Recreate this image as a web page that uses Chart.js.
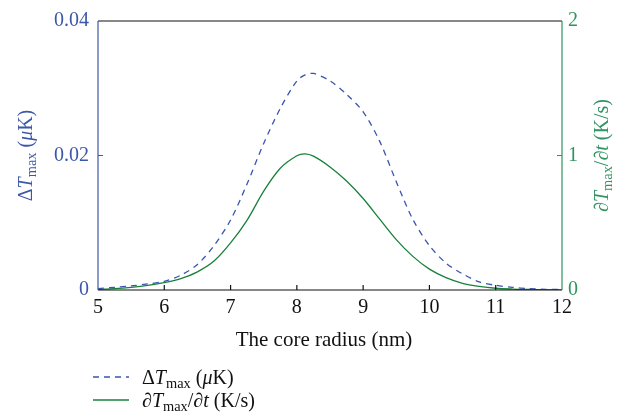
<!DOCTYPE html>
<html>
<head>
<meta charset="utf-8">
<script src="https://cdn.jsdelivr.net/npm/chart.js@4"></script>
<style>
html, body { margin: 0; padding: 0; background: #fff; }
#wrap { width: 621px; height: 416px; position: relative; }
</style>
</head>
<body>
<div id="wrap"><canvas id="graph"></canvas></div>
<script>
// core radius (nm)
var radius = [5, 5.25, 5.5, 5.75, 6, 6.25, 6.5, 6.75, 7, 7.25, 7.5, 7.75, 8, 8.125, 8.25, 8.5, 8.75, 9, 9.25, 9.5, 9.75, 10, 10.25, 10.5, 10.75, 11, 11.25, 11.5, 11.75, 12];
// delta T max (uK), left axis
var deltaT = [0.0002, 0.0004, 0.0006, 0.0009, 0.0013, 0.0022, 0.0038, 0.0066, 0.0104, 0.0158, 0.0218, 0.027, 0.0311, 0.032, 0.0322, 0.0311, 0.0291, 0.0265, 0.0221, 0.0161, 0.0105, 0.0066, 0.004, 0.0024, 0.0012, 0.0007, 0.0004, 0.0002, 0.0001, 0.0001];
// dT/dt (K/s), right axis
var rate = [0.004, 0.01, 0.02, 0.034, 0.054, 0.085, 0.135, 0.215, 0.35, 0.52, 0.735, 0.905, 0.998, 1.012, 0.995, 0.915, 0.81, 0.68, 0.527, 0.375, 0.25, 0.155, 0.092, 0.05, 0.027, 0.013, 0.007, 0.004, 0.002, 0.001];

var blue = '#3b57a8';
var blueLine = '#3a55b0';
var green = '#2f9460';
var greenLine = '#18803a';
var serif = '"Liberation Serif", "DejaVu Serif", serif';

function pts(ys) {
    return radius.map(function (r, i) { return { x: r, y: ys[i] }; });
}

// text made of pieces: {t, it (italic), sub (subscript)}
function richWidth(ctx, parts, size) {
    var w = 0;
    parts.forEach(function (p) {
        var s = p.sub ? size * 0.72 : size;
        ctx.font = (p.it ? 'italic ' : '') + s + 'px ' + serif;
        w += ctx.measureText(p.t).width;
    });
    return w;
}
function richText(ctx, parts, x, y, size) {
    parts.forEach(function (p) {
        var s = p.sub ? size * 0.72 : size;
        ctx.font = (p.it ? 'italic ' : '') + s + 'px ' + serif;
        ctx.fillText(p.t, x, p.sub ? y + size * 0.22 : y);
        x += ctx.measureText(p.t).width;
    });
}

var leftTitle = [{ t: 'Δ' }, { t: 'T', it: true }, { t: 'max', sub: true }, { t: ' (' }, { t: 'μ', it: true }, { t: 'K)' }];
var rightTitle = [{ t: '∂' }, { t: 'T', it: true }, { t: 'max', sub: true }, { t: '/∂' }, { t: 't', it: true }, { t: ' (K/s)' }];

var decor = {
    id: 'decor',
    afterDraw: function (chart) {
        var ctx = chart.ctx;
        var a = chart.chartArea;
        var sx = chart.scales.x, sy = chart.scales.y, sy1 = chart.scales.y1;
        ctx.save();
        ctx.lineWidth = 1.2;
        // frame
        ctx.strokeStyle = '#111';
        ctx.beginPath();
        ctx.moveTo(a.left, a.top); ctx.lineTo(a.right, a.top);
        ctx.moveTo(a.left, a.bottom); ctx.lineTo(a.right, a.bottom);
        ctx.stroke();
        // x ticks, pointing in
        [6, 7, 8, 9, 10, 11].forEach(function (v) {
            var px = sx.getPixelForValue(v);
            ctx.beginPath(); ctx.moveTo(px, a.bottom); ctx.lineTo(px, a.bottom - 5); ctx.stroke();
        });
        ctx.strokeStyle = blue;
        ctx.beginPath(); ctx.moveTo(a.left, a.top); ctx.lineTo(a.left, a.bottom);
        var py = sy.getPixelForValue(0.02);
        ctx.moveTo(a.left, py); ctx.lineTo(a.left + 5, py);
        ctx.stroke();
        ctx.strokeStyle = green;
        ctx.beginPath(); ctx.moveTo(a.right, a.top); ctx.lineTo(a.right, a.bottom);
        py = sy1.getPixelForValue(1);
        ctx.moveTo(a.right, py); ctx.lineTo(a.right - 5, py);
        ctx.stroke();

        ctx.textBaseline = 'alphabetic';
        // x title
        ctx.fillStyle = '#111';
        ctx.font = '21px ' + serif;
        ctx.textAlign = 'center';
        ctx.fillText('The core radius (nm)', 324, 346);
        ctx.textAlign = 'left';

        // y titles, rotated
        var mid = (a.top + a.bottom) / 2;
        ctx.save();
        ctx.fillStyle = blue;
        ctx.translate(32, mid);
        ctx.rotate(-Math.PI / 2);
        richText(ctx, leftTitle, -richWidth(ctx, leftTitle, 20) / 2, 0, 20);
        ctx.restore();
        ctx.save();
        ctx.fillStyle = green;
        ctx.translate(608, mid);
        ctx.rotate(-Math.PI / 2);
        richText(ctx, rightTitle, -richWidth(ctx, rightTitle, 20) / 2, 0, 20);
        ctx.restore();

        // legend
        ctx.lineWidth = 1.3;
        ctx.strokeStyle = blueLine;
        ctx.setLineDash([6, 5]);
        ctx.beginPath(); ctx.moveTo(93, 377); ctx.lineTo(129, 377); ctx.stroke();
        ctx.setLineDash([]);
        ctx.strokeStyle = greenLine;
        ctx.beginPath(); ctx.moveTo(93, 400); ctx.lineTo(129, 400); ctx.stroke();
        ctx.fillStyle = '#111';
        richText(ctx, leftTitle, 142, 384, 20);
        richText(ctx, rightTitle, 142, 407, 20);
        ctx.restore();
    }
};

var graph = document.getElementById('graph').getContext('2d');

var myChart = new Chart(graph, {
    type: 'line',
    data: {
        datasets: [{
            label: 'ΔTmax (μK)',
            data: pts(deltaT),
            yAxisID: 'y',
            borderColor: blueLine,
            borderWidth: 1.3,
            borderDash: [6, 5],
            pointRadius: 0,
            fill: false,
            tension: 0.3,
        }, {
            label: '∂Tmax/∂t (K/s)',
            data: pts(rate),
            yAxisID: 'y1',
            borderColor: greenLine,
            borderWidth: 1.3,
            pointRadius: 0,
            fill: false,
            tension: 0.3,
        }],
    },
    options: {
        responsive: true,
        maintainAspectRatio: false,
        animation: false,
        devicePixelRatio: 1,
        layout: {
            padding: { top: 17, bottom: 0, left: 0, right: 0 },
        },
        plugins: {
            legend: { display: false },
            tooltip: { enabled: false },
        },
        scales: {
            x: {
                type: 'linear',
                min: 5,
                max: 12,
                grid: { display: false, drawTicks: false },
                border: { display: false },
                ticks: { stepSize: 1, color: '#111', padding: 6, maxRotation: 0, font: { family: serif, size: 20 } },
                afterFit: function (s) { s.height = 126; },
            },
            y: {
                position: 'left',
                min: 0,
                max: 0.04,
                grid: { display: false, drawTicks: false },
                border: { display: false },
                ticks: { stepSize: 0.02, color: blue, padding: 9, font: { family: serif, size: 20 } },
                afterFit: function (s) { s.width = 98; },
            },
            y1: {
                position: 'right',
                min: 0,
                max: 2,
                grid: { display: false, drawTicks: false },
                border: { display: false },
                ticks: { stepSize: 1, color: green, padding: 6, font: { family: serif, size: 20 } },
                afterFit: function (s) { s.width = 59; },
            },
        },
    },
    plugins: [decor],
});
</script>
</body>
</html>
